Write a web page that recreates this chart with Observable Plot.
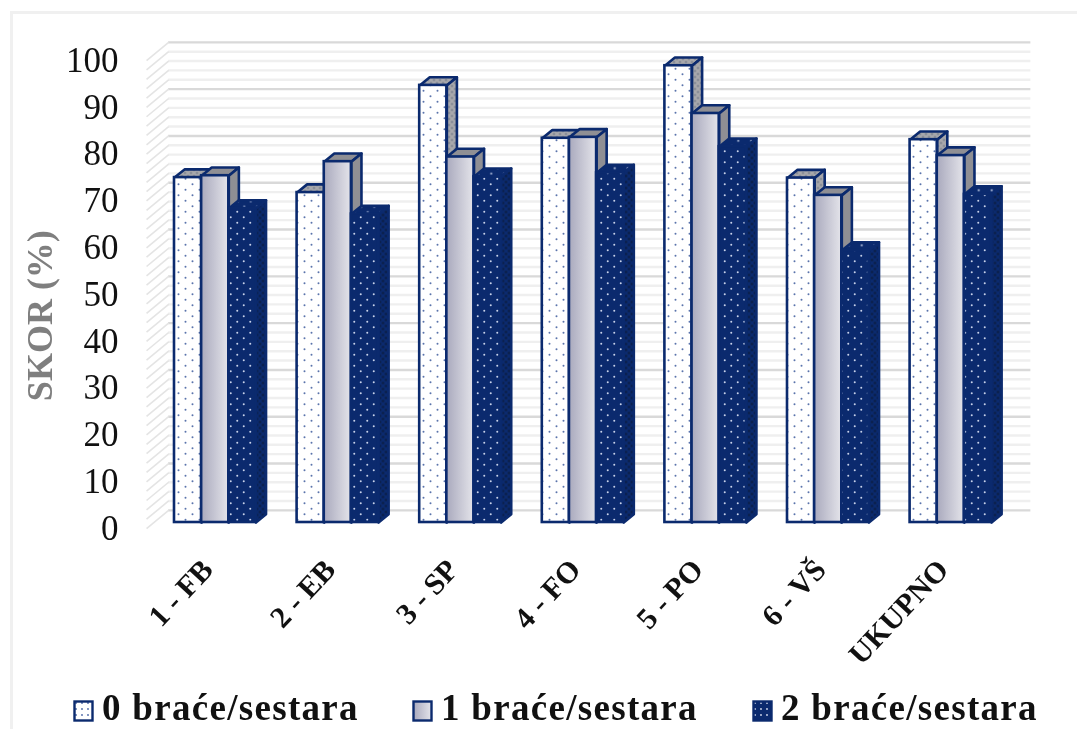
<!DOCTYPE html>
<html><head><meta charset="utf-8">
<script src="https://cdn.jsdelivr.net/npm/d3@7"></script>
<script src="https://cdn.jsdelivr.net/npm/@observablehq/plot@0.6"></script>
<style>
html,body{margin:0;padding:0;background:#fff;}
#wrap{position:relative;width:1077px;height:729px;overflow:hidden;filter:blur(0.45px);}
#frame{position:absolute;left:10px;top:11px;right:0;bottom:0;border-left:3px solid #f0f0f0;border-top:3px solid #f0f0f0;pointer-events:none;}
#legend{position:absolute;left:0;top:690px;width:1077px;height:36px;font:bold 37px "Liberation Serif",serif;letter-spacing:1.3px;color:#111;}
#legend .it{position:absolute;top:0;white-space:nowrap;line-height:36px;}
#legend svg{position:absolute;left:0;top:10px;}
#legend span{position:absolute;left:29px;top:0;}
svg text{font-family:"Liberation Serif",serif;}
</style></head><body>
<div id="wrap"><div id="frame"></div><div id="chart"></div><div id="legend"></div></div>
<script>
const categories = ["1 - FB","2 - EB","3 - SP","4 - FO","5 - PO","6 - VŠ","UKUPNO"];
const seriesNames = ["0 braće/sestara","1 braće/sestara","2 braće/sestara"];
const series0 = [73.7, 70.5, 93.4, 82.1, 97.6, 73.6, 81.8];
const series1 = [74.1, 77.1, 78.1, 82.3, 87.4, 69.9, 78.4];
const series2 = [67.1, 65.9, 73.9, 74.7, 80.3, 58.1, 70.1];
const allSeries = [series0, series1, series2];
const yTicks = d3.range(0, 101, 10);
const minorGrid = d3.range(0, 101, 2);

// geometry in scale units
const barW = 0.2215, depthX = 0.082, depthY = 1.75;
const wallLift = 2.6, wallDrop = 1.3, wallLeft = -0.048, wallFront = -0.228, wallRight = 6.985;

const navy = "#0b2a6e";
const bars = allSeries.flatMap((vals, s) => vals.map((v, i) => ({
  cat: i, s, v, x1: i + s * barW, x2: i + (s + 1) * barW
})));

const poly = (face, pts, b) => pts.map(([x, y], k) => ({id: `${b.cat}-${b.s}-${face}`, s: b.s, x, y, k}));
const corners = b => [
  [[b.x1, b.v], [b.x1 + depthX, b.v + depthY], [b.x2 + depthX, b.v + depthY], [b.x2, b.v], [b.x1, b.v]],
  [[b.x2, 0], [b.x2 + depthX, depthY], [b.x2 + depthX, b.v + depthY], [b.x2, b.v], [b.x2, 0]]
];
const lineOpts = (data, fills) => Plot.line(data, {
  x: "x", y: "y", z: "id", fill: d => fills[d.s], stroke: navy, strokeWidth: 2.6,
  strokeLinejoin: "round", curve: "linear"
});
const frontFill = ["url(#p0)", "url(#g1)", "url(#p2)"];
const topFill = ["url(#p0t)", "#8f8f94", "url(#p2)"];
const sideFill = ["url(#p0t)", "#8f8f94", "url(#p2d)"];

const defs = () => {
  const svg = d3.create("svg:g");
  const d = svg.append("defs");
  const pat = (id, bg, dot, w, h, r) => {
    const p = d.append("pattern").attr("id", id).attr("patternUnits", "userSpaceOnUse").attr("width", w).attr("height", h);
    p.append("rect").attr("width", w).attr("height", h).attr("fill", bg);
    p.append("circle").attr("cx", w / 4).attr("cy", h / 4).attr("r", r).attr("fill", dot);
    p.append("circle").attr("cx", 3 * w / 4).attr("cy", 3 * h / 4).attr("r", r).attr("fill", dot);
  };
  pat("p0", "#fff", "#5b74ac", 14, 11, 1);
  pat("p0t", "#a8a8ac", "#6c7484", 6, 6, 1);
  pat("p2", "#0b2a6e", "#c8d2ea", 13, 11, 1);
  pat("p2d", "#0b2a6e", "#0a1c40", 6, 6, 1.2);
  const g = d.append("linearGradient").attr("id", "g1").attr("x1", 0).attr("x2", 1).attr("y1", 0).attr("y2", 0);
  g.append("stop").attr("offset", "0").attr("stop-color", "#a9a9bd");
  g.append("stop").attr("offset", "1").attr("stop-color", "#e4e4ea");
  return svg.node();
};

const chart = Plot.plot({
  width: 1077, height: 690,
  marginLeft: 121, marginBottom: 168, marginTop: 0, marginRight: 0,
  x: {domain: [0, 7], range: [174, 1032.2], axis: null},
  y: {domain: [0, 100], range: [522, 54], axis: null},
  marks: [
    defs,
    Plot.ruleY(minorGrid.filter(v => v % 10), {y: v => v + wallLift, x1: wallLeft, x2: wallRight, stroke: "#efefef", strokeWidth: 2.4}),
    Plot.ruleY(yTicks, {y: v => v + wallLift, x1: wallLeft, x2: wallRight, stroke: "#d9d9d9", strokeWidth: 2.4}),
    Plot.link(minorGrid, {x1: wallFront, y1: v => v - wallDrop, x2: wallLeft, y2: v => v + wallLift, stroke: "#e4e4e4", strokeWidth: 1.6}),
    ...bars.flatMap(b => {
      const [top, side] = corners(b);
      return [
        lineOpts(poly("t", top, b), topFill),
        lineOpts(poly("s", side, b), sideFill),
        Plot.rect([b], {x1: "x1", x2: "x2", y1: 0, y2: "v", fill: d => frontFill[d.s], stroke: navy, strokeWidth: 2.6})
      ];
    }),
    Plot.axisY({ticks: yTicks, tickSize: 0, tickPadding: 3, dy: 6, fontSize: 35, color: "#111", label: null}),
    Plot.axisX({
      ticks: categories.map((c, i) => i + 0.27),
      tickFormat: (d, i) => categories[i],
      tickSize: 0, tickRotate: -47, tickPadding: 42, fontSize: 30, fontWeight: "bold", color: "#111", label: null
    }),
    Plot.text(["SKOR (%)"], {
      frameAnchor: "left", textAnchor: "middle", dx: -81, y: 44.2, rotate: -90, fontSize: 36, fontWeight: "bold", fill: "#7f7f7f"
    })
  ]
});
document.getElementById("chart").appendChild(chart);

const lx = [73, 412, 752];
const swFill = ["url(#l0)", "url(#l1)", "url(#l2)"];
const leg = d3.select("#legend");
seriesNames.forEach((n, i) => {
  const it = leg.append("div").attr("class", "it").style("left", lx[i] + "px");
  const s = it.append("svg").attr("width", 21).attr("height", 22);
  const d = s.append("defs");
  if (i === 1) {
    const g = d.append("linearGradient").attr("id", "l1");
    g.append("stop").attr("offset", "0").attr("stop-color", "#a9a9bd");
    g.append("stop").attr("offset", "1").attr("stop-color", "#e4e4ea");
  } else {
    const p = d.append("pattern").attr("id", "l" + i).attr("patternUnits", "userSpaceOnUse").attr("width", 6).attr("height", 6);
    p.append("rect").attr("width", 6).attr("height", 6).attr("fill", i ? navy : "#fff");
    p.append("circle").attr("cx", 3).attr("cy", 3).attr("r", 0.9).attr("fill", i ? "#d5dcef" : "#4a66a5");
  }
  s.append("rect").attr("x", 1.5).attr("y", 1.5).attr("width", 18).attr("height", 19).attr("fill", swFill[i]).attr("stroke", navy).attr("stroke-width", 2.4);
  it.append("span").text(n);
});
</script>
</body></html>
